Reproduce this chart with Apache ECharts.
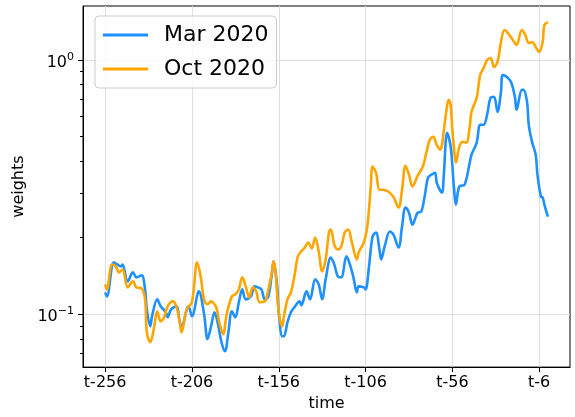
<!DOCTYPE html>
<html>
<head>
<meta charset="utf-8">
<script src="https://cdn.jsdelivr.net/npm/echarts@6/dist/echarts.min.js"></script>
<style>html,body{margin:0;padding:0;background:#fff}#c{width:575px;height:417px}</style>
</head>
<body>
<div id="c"></div>
<script>
// x positions: time offsets (t-256 .. t-1)
const marT = [-256,-255,-251,-249,-247,-246,-243,-240,-238,-235,-233,-232,-230,-229,-226,-224,-221,-220,-218,-215,-213,-212,-209,-208,-206,-202,-199,-197,-195,-193,-191,-189,-187,-185,-183,-181,-179,-177,-175,-172,-170,-168,-166,-164,-162,-160,-159,-157,-156,-154,-153,-151,-149,-147,-144,-143,-140,-138,-135,-133,-131,-129,-126,-124,-122,-120,-117,-115,-113,-111,-110,-107,-106,-104,-102,-100,-98,-97,-95,-92,-90,-87,-85,-83,-81,-79,-76,-74,-72,-70,-68,-66,-65,-62,-61,-59,-57,-55,-54,-52,-49,-46,-45,-42,-40,-38,-36,-34,-32,-30,-28,-27,-24,-22,-20,-19,-16,-15,-13,-12,-10,-8,-7,-5,-4,-3,-1];
const mar = [0.122,0.1176,0.160,0.157,0.1543,0.157,0.1347,0.1461,0.1397,0.1422,0.1253,0.1046,0.0897,0.0982,0.1145,0.1075,0.1018,0.0973,0.1046,0.1075,0.093,0.0889,0.1046,0.1075,0.0982,0.1231,0.1,0.0798,0.0897,0.1018,0.0914,0.0777,0.0716,0.085,0.1027,0.0973,0.1115,0.1253,0.1145,0.1176,0.1288,0.1276,0.1253,0.1145,0.1176,0.1435,0.1614,0.1311,0.1018,0.082,0.082,0.093,0.1018,0.1066,0.1124,0.1085,0.1231,0.1145,0.1372,0.1311,0.1145,0.1372,0.1673,0.157,0.141,0.1397,0.1689,0.157,0.1397,0.122,0.1288,0.1276,0.1253,0.1543,0.202,0.2097,0.1799,0.1644,0.1848,0.2115,0.206,0.1831,0.221,0.263,0.251,0.225,0.251,0.253,0.290,0.345,0.354,0.360,0.329,0.301,0.348,0.517,0.456,0.309,0.270,0.318,0.323,0.395,0.424,0.473,0.556,0.556,0.609,0.710,0.716,0.625,0.749,0.873,0.850,0.812,0.716,0.637,0.763,0.763,0.684,0.556,0.473,0.424,0.354,0.290,0.288,0.270,0.242];
const octT = [-256,-255,-252,-250,-248,-246,-243,-240,-238,-235,-233,-232,-230,-228,-226,-224,-222,-220,-217,-215,-213,-212,-209,-206,-203,-201,-199,-197,-195,-194,-192,-190,-188,-186,-183,-181,-179,-177,-175,-173,-171,-169,-167,-164,-163,-160,-159,-158,-156,-154,-153,-151,-149,-147,-145,-143,-141,-139,-137,-135,-133,-131,-129,-127,-126,-124,-122,-120,-118,-116,-114,-111,-110,-107,-105,-103,-102,-100,-98,-96,-93,-90,-87,-85,-83,-81,-79,-76,-73,-71,-69,-67,-65,-63,-62,-60,-58,-57,-56,-55,-54,-52,-50,-48,-46,-45,-42,-40,-38,-36,-34,-32,-30,-28,-26,-24,-22,-20,-19,-16,-14,-12,-10,-8,-6,-4,-3,-1];
const oct = [0.1311,0.1253,0.157,0.1543,0.1461,0.1501,0.1276,0.1347,0.1276,0.1265,0.1145,0.085,0.0777,0.0873,0.1027,0.0939,0.0973,0.1075,0.1124,0.1075,0.093,0.085,0.1046,0.1115,0.160,0.141,0.1145,0.1095,0.1124,0.1115,0.1066,0.0914,0.0835,0.1,0.1176,0.1198,0.1253,0.1397,0.1288,0.1165,0.1276,0.1231,0.1115,0.1124,0.1165,0.1461,0.1614,0.1501,0.1018,0.0897,0.0982,0.1145,0.122,0.141,0.1689,0.1767,0.1831,0.1916,0.1815,0.2004,0.1767,0.1474,0.1644,0.2115,0.2154,0.188,0.1799,0.1848,0.2097,0.2154,0.1933,0.1644,0.1751,0.1916,0.221,0.318,0.381,0.360,0.309,0.309,0.304,0.290,0.263,0.309,0.384,0.354,0.318,0.351,0.381,0.432,0.486,0.499,0.464,0.444,0.464,0.592,0.697,0.666,0.532,0.444,0.395,0.456,0.477,0.473,0.546,0.625,0.710,0.873,0.930,1.0,1.018,0.939,0.982,1.177,1.311,1.276,1.220,1.166,1.145,1.311,1.253,1.166,1.177,1.125,1.075,1.177,1.372,1.409];
const xTicks = [-256,-206,-156,-106,-56,-6];
const yMajor = [0.1, 1];
const yMinor = [0.07,0.08,0.09,0.2,0.3,0.4,0.5,0.6,0.7,0.8,0.9];

const FONT = 'DejaVu Sans';
const pair = (ts, vs) => ts.map((t, i) => [t, vs[i]]);
const chart = echarts.init(document.getElementById('c'), null, {renderer: 'canvas'});
const supLabel = v => {
  const e = Math.round(Math.log10(v));
  return '{b|10}{s|' + (e < 0 ? '\u2212' + (-e) : e) + '}';
};
chart.setOption({
  animation: false,
  backgroundColor: '#fff',
  textStyle: {fontFamily: FONT},
  grid: {left: 83, right: 5, top: 6, bottom: 49, show: true, borderColor: '#000', borderWidth: 1, backgroundColor: 'transparent'},
  legend: {
    orient: 'vertical', left: 95, top: 16,
    data: ['Mar 2020', 'Oct 2020'],
    icon: 'rect',
    itemWidth: 45, itemHeight: 3, itemGap: 12,
    padding: [8, 8, 8, 8],
    backgroundColor: 'rgba(255,255,255,0.8)', borderColor: '#cccccc', borderWidth: 1, borderRadius: 4,
    textStyle: {fontFamily: FONT, fontSize: 22, color: '#000', padding: [0, 0, 0, 11], height: 22, lineHeight: 22}
  },
  xAxis: {
    type: 'value', min: -268.75, max: 11.75,
    name: 'time', nameLocation: 'middle', nameGap: 28,
    nameTextStyle: {fontFamily: FONT, fontSize: 16, color: '#000'},
    axisLine: {show: true, onZero: false, lineStyle: {color: '#000', width: 1}},
    axisTick: {show: true, customValues: xTicks, length: 5, inside: false, lineStyle: {color: '#000'}},
    axisLabel: {customValues: xTicks, formatter: v => 't' + v, fontFamily: FONT, fontSize: 16, color: '#000', margin: 8},
    splitLine: {show: true, lineStyle: {color: '#dedede', width: 1}}
  },
  yAxis: [{
    type: 'log', logBase: 10, min: 0.062, max: 1.63,
    name: 'weights', nameLocation: 'middle', nameGap: 53, nameRotate: 90,
    nameTextStyle: {fontFamily: FONT, fontSize: 16, color: '#000'},
    axisLine: {show: true, onZero: false, lineStyle: {color: '#000', width: 1}},
    axisTick: {show: true, customValues: yMajor, length: 5, lineStyle: {color: '#000'}},
    axisLabel: {customValues: yMajor, formatter: supLabel, margin: 9,
      rich: {b: {fontFamily: FONT, fontSize: 16, color: '#000', padding: [6, 0, 0, 0]}, s: {fontFamily: FONT, fontSize: 11, color: '#000', padding: [0, 0, 6, 0]}}},
    splitLine: {show: true, lineStyle: {color: '#dedede', width: 1}}
  }, {
    type: 'log', logBase: 10, min: 0.062, max: 1.63, position: 'left', offset: 0,
    axisLine: {show: false, onZero: false},
    axisTick: {show: true, customValues: yMinor, length: 3, lineStyle: {color: '#000'}},
    axisLabel: {show: false},
    splitLine: {show: false}
  }],
  series: [
    {name: 'Mar 2020', type: 'line', data: pair(marT, mar), smooth: 0.35, symbol: 'none', color: '#1E90FF', lineStyle: {width: 2.6, color: '#1E90FF'}, yAxisIndex: 0},
    {name: 'Oct 2020', type: 'line', data: pair(octT, oct), smooth: 0.35, symbol: 'none', color: '#FFA500', lineStyle: {width: 2.6, color: '#FFA500'}, yAxisIndex: 0}
  ]
});
</script>
</body>
</html>
